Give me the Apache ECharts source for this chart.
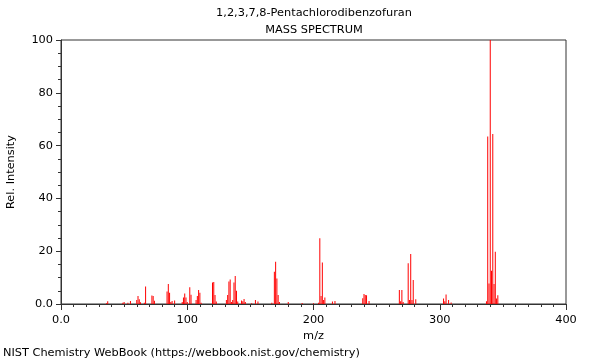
<!DOCTYPE html>
<html>
<head>
<meta charset="utf-8">
<script src="https://cdn.jsdelivr.net/npm/echarts@6/dist/echarts.min.js"></script>
<style>
html,body{margin:0;padding:0;background:#fff;}
#chart{width:600px;height:360px;}
</style>
</head>
<body>
<div id="chart"></div>
<script>
const titleText = "1,2,3,7,8-Pentachlorodibenzofuran";
const subTitleText = "MASS SPECTRUM";
const footerText = "NIST Chemistry WebBook (https://webbook.nist.gov/chemistry)";
const xAxisName = "m/z";
const yAxisName = "Rel. Intensity";

const mz = [36,37,49,50,53,55,60,61,62,63,66,67,72,73,74,84,85,86,87,88,90,96,97,98,99,100,102,103,107,108,109,110,111,120,121,122,123,131,132,133,134,135,136,137,138,139,140,143,144,145,146,151,154,156,167,169,170,171,172,173,180,191,200,204,205,206,207,208,209,215,217,239,240,241,242,244,268,269,270,271,275,276,277,278,279,281,303,304,305,307,309,337,338,339,340,341,342,343,344,345,346];
const intensity = [0.3,1.0,0.5,0.8,0.5,1.1,1.5,3.0,1.8,0.7,0.5,6.6,3.2,3.0,1.2,4.7,7.6,4.3,0.8,1.1,1.3,0.8,2.5,4.0,2.5,0.8,6.3,3.5,1.5,3.0,5.3,4.3,0.5,8.1,8.3,3.4,0.9,1.5,3.4,8.5,9.3,0.8,1.5,8.1,10.6,5.0,0.9,1.3,1.0,1.9,0.8,0.3,1.5,0.9,0.5,12.2,16.0,9.7,3.4,0.8,0.8,0.4,0.3,0.5,24.9,3.0,15.7,1.5,2.5,0.9,1.1,2.2,3.8,3.4,3.3,1.1,5.3,1.0,5.3,0.8,15.4,1.5,18.9,1.5,9.1,1.8,2.1,1.0,3.6,1.5,0.6,1.0,63.4,7.8,100,12.6,64.4,7.6,19.8,2.1,3.3];

const xMin = 0, xMax = 400, xInterval = 100;
const yMin = 0, yMax = 100, yInterval = 20;

const font = "DejaVu Sans";
const fs = 11.33;
const chart = echarts.init(document.getElementById('chart'), null, {renderer: 'canvas'});
const data = mz.map((m, i) => [m, intensity[i]]);
const txt = {fontFamily: font, fontSize: fs, fontWeight: 'normal', color: '#000'};

chart.setOption({
  animation: false,
  backgroundColor: '#fff',
  textStyle: {fontFamily: font},
  title: [
    {text: titleText, left: 314, textAlign: 'center', top: 8, padding: 0, textStyle: txt},
    {text: subTitleText, left: 314, textAlign: 'center', top: 25, padding: 0, textStyle: txt},
    {text: footerText, left: 3, top: 348, padding: 0, textStyle: txt}
  ],
  grid: {left: 61, right: 34, top: 40, bottom: 56, show: true, borderColor: '#333', borderWidth: 1,
    backgroundColor: 'transparent', containLabel: false, outerBoundsMode: 'none'},
  xAxis: {
    type: 'value', min: xMin, max: xMax, interval: xInterval,
    name: xAxisName, nameLocation: 'middle', nameGap: 23,
    nameTextStyle: {fontFamily: font, fontSize: fs, color: '#000'},
    axisLine: {show: true, lineStyle: {color: '#333', width: 1}},
    axisTick: {show: true, length: 6, lineStyle: {color: '#333'}},
    minorTick: {show: true, splitNumber: 10, length: 3, lineStyle: {color: '#333'}},
    splitLine: {show: false},
    axisLabel: {fontFamily: font, fontSize: fs, color: '#000', margin: 11,
      formatter: v => v === 0 ? '0.0' : String(v)}
  },
  yAxis: {
    type: 'value', min: yMin, max: yMax, interval: yInterval,
    name: yAxisName, nameLocation: 'middle', nameGap: 44,
    nameTextStyle: {fontFamily: font, fontSize: fs, color: '#000'},
    axisLine: {show: true, lineStyle: {color: '#333', width: 1}},
    axisTick: {show: true, length: 5, lineStyle: {color: '#333'}},
    minorTick: {show: true, splitNumber: 4, length: 3, lineStyle: {color: '#333'}},
    splitLine: {show: false},
    axisLabel: {fontFamily: font, fontSize: fs, color: '#000', margin: 8,
      formatter: v => v === 0 ? '0.0' : String(v)}
  },
  series: [{
    type: 'bar',
    data: data,
    barWidth: 1,
    itemStyle: {color: '#ff0000'},
    silent: true
  }]
});
</script>
</body>
</html>
